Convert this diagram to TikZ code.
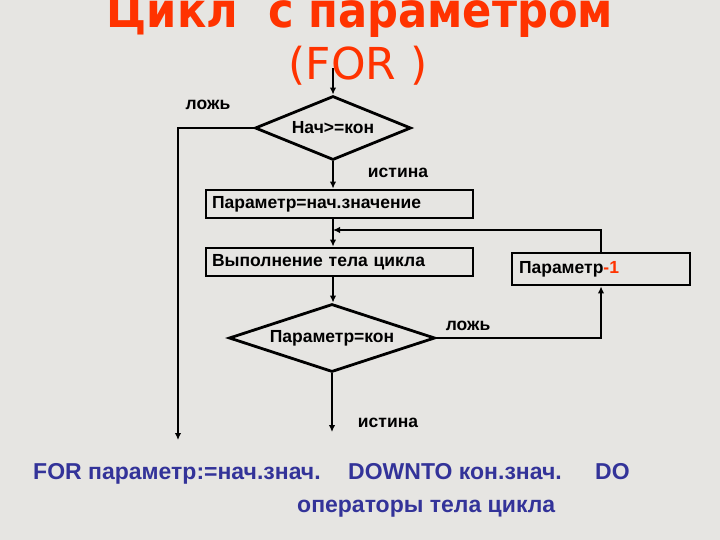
\documentclass[tikz,border=0pt]{standalone}
\usepackage{fontspec}
\setmainfont{Liberation Sans}
\newfontfamily\titlefont{DejaVu Sans}
\newfontfamily\titlecond{DejaVu Sans Condensed}
\usetikzlibrary{shapes.geometric,arrows.meta}
\definecolor{bgcol}{HTML}{E6E5E2}
\definecolor{titlered}{HTML}{FF3300}
\definecolor{codeblue}{HTML}{333399}
\tikzset{
  flow/.style={line width=2.8pt, draw=black},
  arr/.style={flow, -{Latex[length=7pt,width=6.5pt]}},
  decis/.style={diamond, aspect=3, flow, inner sep=0pt, font=\bfseries\fontsize{17.5}{20}\selectfont},
  procbox/.style={rectangle, flow, inner sep=0pt, font=\bfseries\fontsize{17.5}{20}\selectfont, align=left},
  lbl/.style={font=\bfseries\fontsize{17.5}{20}\selectfont, inner sep=0pt},
  code/.style={font=\bfseries\fontsize{23}{27}\selectfont, text=codeblue, inner sep=0pt, anchor=base west}
}
\begin{document}
\begin{tikzpicture}[x=1pt,y=-1pt]
\fill[bgcol] (0,0) rectangle (720,540);
\useasboundingbox (0,0) rectangle (720,540);

\node[anchor=base, inner sep=0pt, text=titlered, font=\titlecond\bfseries\fontsize{48}{56}\selectfont] (title) at (360,28) {Цикл\ \ с параметром};
\node[anchor=base, inner sep=0pt, text=titlered, font=\titlefont\fontsize{44}{52}\selectfont] (for) at (358,80) {(FOR )};

\node[decis, minimum width=156pt, minimum height=64pt] (d1) at (333,128) {Нач>=кон};
\node[procbox, minimum width=267pt, minimum height=28pt, text width=255pt] (b1) at (339.5,204) {Параметр=нач.значение};
\node[procbox, minimum width=267pt, minimum height=28pt, text width=255pt] (b2) at (339.5,262) {Выполнение тела цикла};
\node[decis, minimum width=206pt, minimum height=68pt] (d2) at (332,338) {Параметр=кон};
\node[procbox, minimum width=178pt, minimum height=32pt, text width=164pt] (b3) at (601,269) {Параметр\textcolor{titlered}{-1}};

\coordinate (start) at (333,68);
\coordinate (leftend) at (178,440);
\coordinate (join) at (333,230);
\coordinate (downend) at (332,432);

\draw[arr] (start) -- (d1.north);
\draw[arr] (d1.west) -| (leftend);
\draw[arr] (d1.south) -- (d1.south |- b1.north);
\draw[arr] (d1.south |- b1.south) -- (d1.south |- b2.north);
\draw[arr] (b3.north) |- (join);
\draw[arr] (d1.south |- b2.south) -- (d1.south |- d2.north);
\draw[arr] (d2.east) -| (b3.south);
\draw[arr] (d2.south) -- (downend);

\node[lbl] (l1) at (208,105) {ложь};
\node[lbl] (i1) at (398,173) {истина};
\node[lbl] (l2) at (468,326) {ложь};
\node[lbl] (i2) at (388,423) {истина};

\node[code] (c1) at (33,479) {\makebox[315pt][l]{FOR параметр:=нач.знач.}\makebox[247pt][l]{DOWNTO кон.знач.}DO};
\node[code] (c2) at (297,512) {операторы тела цикла};
\end{tikzpicture}
\end{document}
